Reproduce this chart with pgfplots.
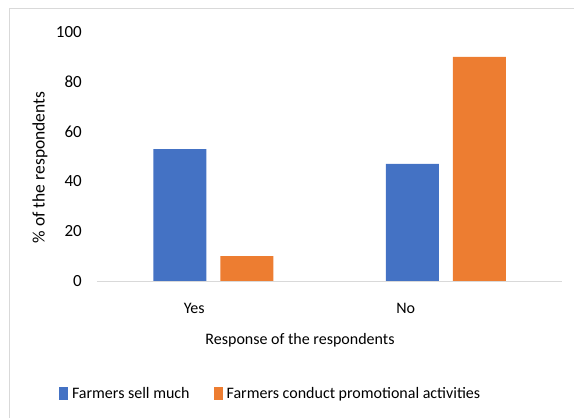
\documentclass[border=0pt]{standalone}
\usepackage{pgfplots}
\pgfplotsset{compat=1.18}
\usepackage{fontspec}
\setmainfont{Carlito}
\definecolor{barblue}{HTML}{4472C4}
\definecolor{barorange}{HTML}{ED7D31}
\definecolor{framegray}{HTML}{D9D9D9}

\begin{document}
\begin{tikzpicture}
\useasboundingbox (0,0) rectangle (574bp,418bp);
% chart area frame
\draw[framegray, line width=1bp] (9bp,0) -- (9bp,409bp) -- (574bp,409bp);
\begin{axis}[
  at={(97bp,137bp)}, anchor=south west,
  scale only axis, width=465bp, height=249bp,
  ymin=0, ymax=100, ytick={0,20,...,100},
  xmin=-0.5, xmax=1.5,
  xtick={-0.082,0.828}, xticklabels={Yes,No},
  axis x line*=bottom, axis y line*=left,
  y axis line style={draw=none},
  x axis line style={framegray, line width=1bp, -},
  major tick length=0pt,
  /pgf/number format/assume math mode=true,
  yticklabel style={font=\fontsize{17bp}{20bp}\selectfont, anchor=east, inner sep=0pt, xshift=-15bp},
  xticklabel style={font=\fontsize{16bp}{19bp}\selectfont, anchor=center, inner sep=0pt, yshift=-27bp},
  xlabel={Response of the respondents},
  xlabel style={font=\fontsize{16bp}{19bp}\selectfont, at={(axis description cs:0.4366,-0.237)}, anchor=center, inner sep=0pt},
  ylabel={\% of the respondents},
  ylabel style={font=\fontsize{17.5bp}{21bp}\selectfont, at={(axis description cs:-0.1226,0.456)}, anchor=center, inner sep=0pt},
  ybar=14bp, bar width=53bp,
  legend columns=2,
  legend style={at={(axis description cs:-0.0817,-0.4538)}, anchor=west,
    draw=none, fill=none, inner sep=0pt, outer sep=0pt,
    font=\fontsize{16bp}{19bp}\selectfont,
    nodes={inner sep=0pt},
    /tikz/every odd column/.append style={column sep=4bp},
    /tikz/every even column/.append style={column sep=24bp}},
  legend image code/.code={\fill[#1] (0bp,-6.5bp) rectangle (9bp,6.5bp);},
]
\addplot[fill=barblue, draw=none] coordinates {(0,53) (1,47)};
\addplot[fill=barorange, draw=none] coordinates {(0,10) (1,90)};
\legend{Farmers sell much, Farmers conduct promotional activities}
\end{axis}
\end{tikzpicture}
\end{document}
